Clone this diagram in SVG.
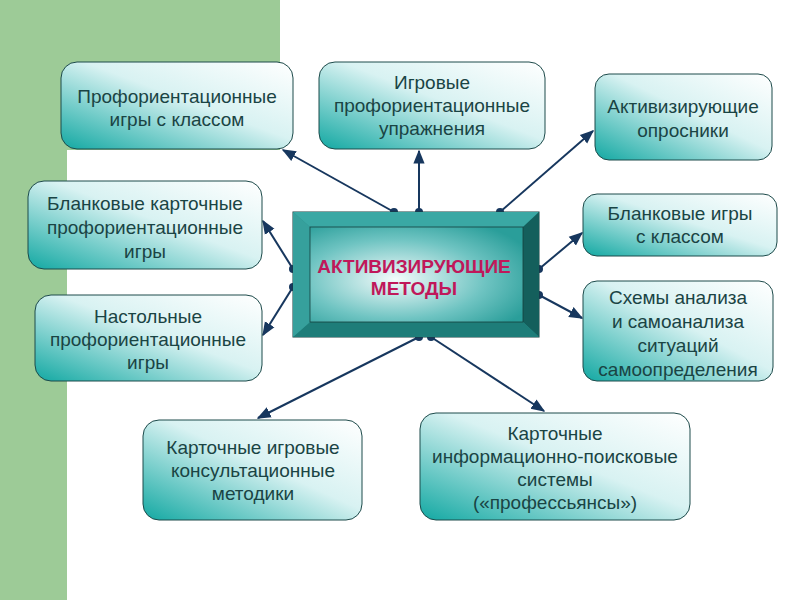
<svg xmlns="http://www.w3.org/2000/svg" width="800" height="600" viewBox="0 0 800 600">
<defs>
<linearGradient id="g" x1="0" y1="1" x2="1" y2="0">
<stop offset="0" stop-color="#12a8a2"/><stop offset="0.55" stop-color="#d8f2f2"/><stop offset="1" stop-color="#ffffff"/>
</linearGradient>
<radialGradient id="c" cx="0.4" cy="0.55" r="0.7">
<stop offset="0" stop-color="#f4fbfb"/><stop offset="0.6" stop-color="#6fc4c2"/><stop offset="1" stop-color="#2a9e9a"/>
</radialGradient>
<marker id="a" viewBox="0 0 10 10" refX="9" refY="5" markerWidth="7" markerHeight="7" orient="auto"><path d="M0,1 L10,5 L0,9 z" fill="#17375e"/></marker>
<marker id="d" viewBox="0 0 10 10" refX="5" refY="5" markerWidth="5" markerHeight="5"><circle cx="5" cy="5" r="4" fill="#17375e"/></marker>
<style>
.n{fill:url(#g);stroke:#1d4a4a;stroke-width:1}
.t{font-family:"Liberation Sans",Arial,sans-serif;font-size:19px;fill:#1a4444;text-anchor:middle}
.l{stroke:#17375e;stroke-width:2;fill:none;marker-end:url(#a);marker-start:url(#d)}
</style>
</defs>
<rect width="800" height="600" fill="#fff"/>
<path d="M0,0 H280 V150 H67 V600 H0 Z" fill="#9dcb97"/>
<g id="connectors">
<line class="l" x1="394" y1="212" x2="283" y2="150"/>
<line class="l" x1="419" y1="212" x2="419" y2="151"/>
<line class="l" x1="500" y1="212" x2="593" y2="131"/>
<line class="l" x1="293" y1="269" x2="263" y2="221"/>
<line class="l" x1="293" y1="287" x2="263" y2="335"/>
<line class="l" x1="539" y1="269" x2="582" y2="233"/>
<line class="l" x1="539" y1="295" x2="582" y2="318"/>
<line class="l" x1="419" y1="337" x2="258" y2="418"/>
<line class="l" x1="431" y1="337" x2="544" y2="411"/>
</g>
<g id="center">
<rect x="293" y="212" width="246" height="125" fill="#2a8f8b" stroke="#163f3e"/>
<polygon points="293,212 539,212 523,227 310,227" fill="#3aa8a4"/>
<polygon points="523,227 539,212 539,337 523,322" fill="#145f5c"/>
<polygon points="310,322 523,322 539,337 293,337" fill="#1e7d79"/>
<polygon points="293,212 310,227 310,322 293,337" fill="#36a09c"/>
<rect x="310" y="227" width="213" height="95" fill="url(#c)" stroke="#163f3e" stroke-width="0.8"/>
<text x="414" y="273" style="font-family:'Liberation Sans',Arial,sans-serif;font-size:19px;font-weight:bold;fill:#c0185a;text-anchor:middle">АКТИВИЗИРУЮЩИЕ<tspan x="414" dy="22">МЕТОДЫ</tspan></text>
</g>
<g id="n1"><rect class="n" x="61" y="62" width="232" height="87" rx="16"/><text class="t" x="177" y="103">Профориентационные<tspan x="177" dy="23">игры с классом</tspan></text></g>
<g id="n2"><rect class="n" x="319" y="62" width="226" height="87" rx="16"/><text class="t" x="432" y="89">Игровые<tspan x="432" dy="23">профориентационные</tspan><tspan x="432" dy="23">упражнения</tspan></text></g>
<g id="n3"><rect class="n" x="595" y="74" width="177" height="86" rx="14"/><text class="t" x="683" y="113">Активизирующие<tspan x="683" dy="24">опросники</tspan></text></g>
<g id="n4"><rect class="n" x="28" y="181" width="234" height="88" rx="16"/><text class="t" x="145" y="210">Бланковые карточные<tspan x="145" dy="24">профориентационные</tspan><tspan x="145" dy="24">игры</tspan></text></g>
<g id="n5"><rect class="n" x="35" y="295" width="227" height="86" rx="16"/><text class="t" x="148" y="323">Настольные<tspan x="148" dy="23">профориентационные</tspan><tspan x="148" dy="23">игры</tspan></text></g>
<g id="n6"><rect class="n" x="583" y="194" width="194" height="62" rx="14"/><text class="t" x="680" y="220">Бланковые игры<tspan x="680" dy="23">с классом</tspan></text></g>
<g id="n7"><rect class="n" x="583" y="281" width="190" height="100" rx="14"/><text class="t" x="678" y="304">Схемы анализа<tspan x="678" dy="24">и самоанализа</tspan><tspan x="678" dy="24">ситуаций</tspan><tspan x="678" dy="24">самоопределения</tspan></text></g>
<g id="n8"><rect class="n" x="143" y="420" width="219" height="100" rx="16"/><text class="t" x="253" y="454">Карточные игровые<tspan x="253" dy="23">консультационные</tspan><tspan x="253" dy="23">методики</tspan></text></g>
<g id="n9"><rect class="n" x="420" y="413" width="270" height="107" rx="16"/><text class="t" x="555" y="440">Карточные<tspan x="555" dy="23">информационно-поисковые</tspan><tspan x="555" dy="23">системы</tspan><tspan x="555" dy="23">(«профессьянсы»)</tspan></text></g>
</svg>
